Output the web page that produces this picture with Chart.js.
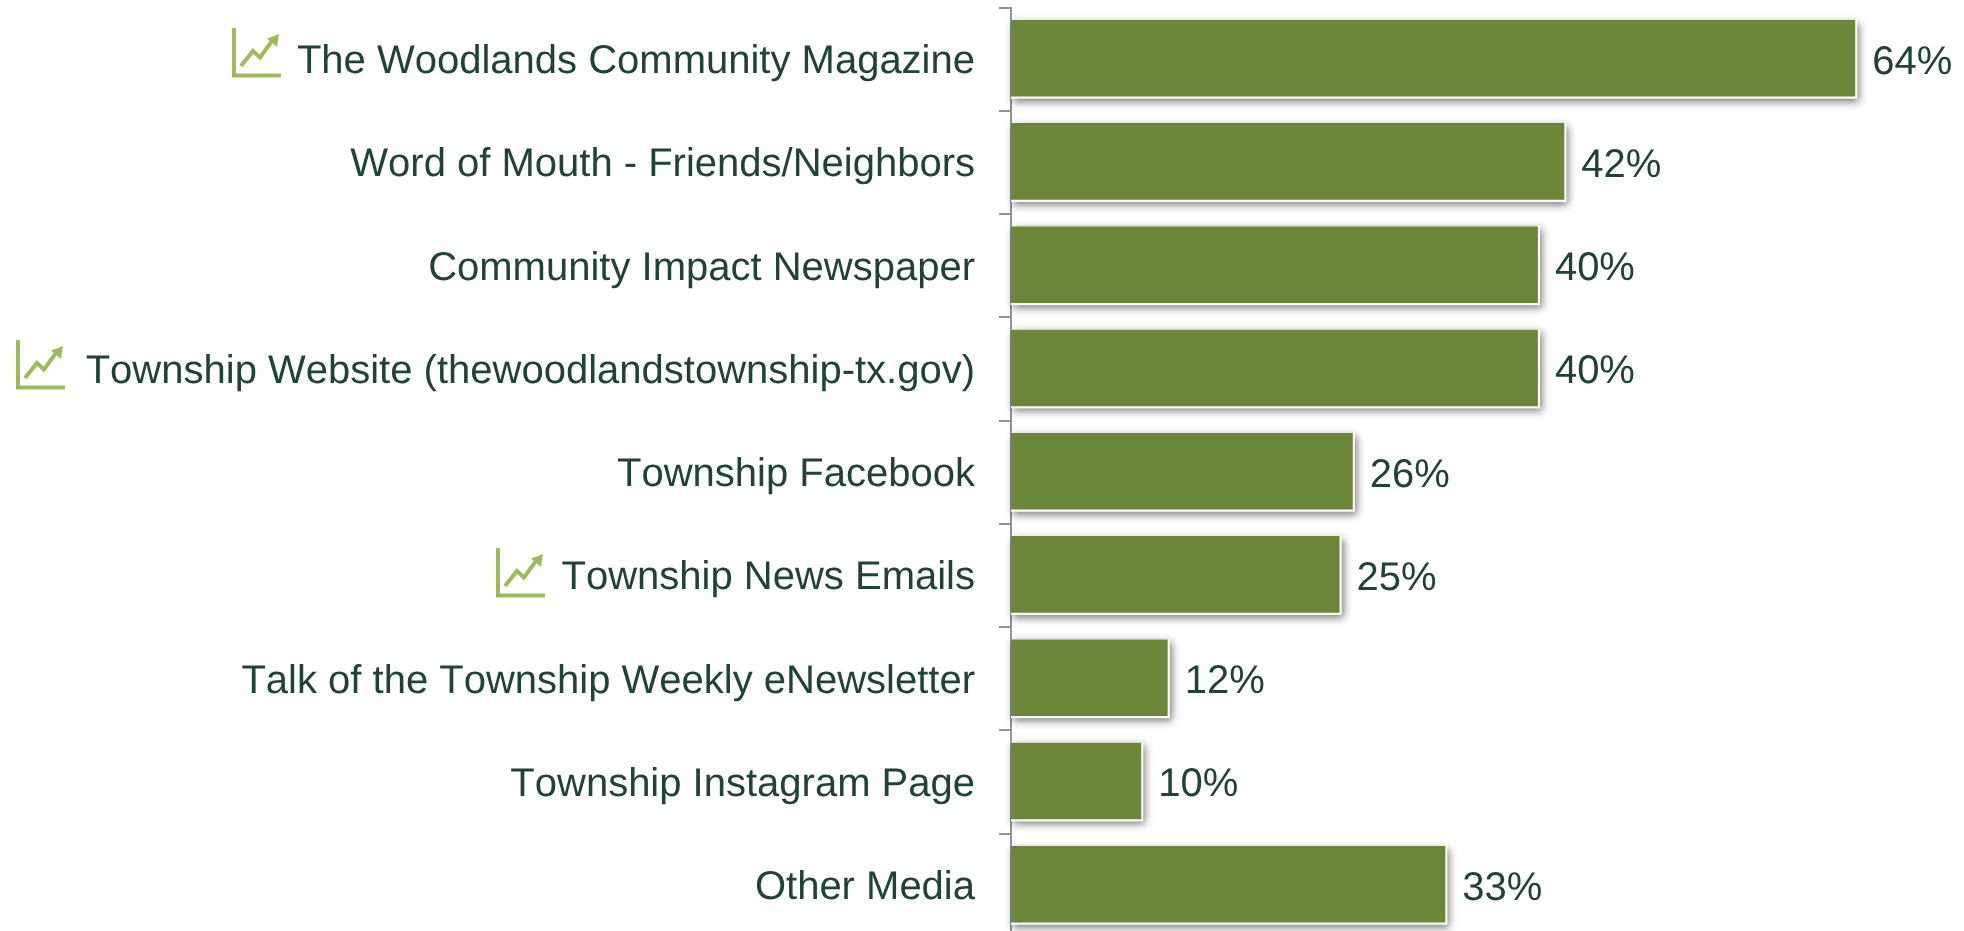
<!DOCTYPE html>
<html>
<head>
<meta charset="utf-8">
<title>Media sources</title>
<style>
    html, body { margin: 0; background: #fff; overflow: hidden; height: 931px; }
    canvas { display: block; }
</style>
<script src="https://cdn.jsdelivr.net/npm/chart.js@4"></script>
</head>
<body>
<canvas id="mediaChart" width="1964" height="940"></canvas>
<script>
const categories = [
    "The Woodlands Community Magazine",
    "Word of Mouth - Friends/Neighbors",
    "Community Impact Newspaper",
    "Township Website (thewoodlandstownship-tx.gov)",
    "Township Facebook",
    "Township News Emails",
    "Talk of the Township Weekly eNewsletter",
    "Township Instagram Page",
    "Other Media"
];
const percentages = [64, 42, 40, 40, 26, 25, 12, 10, 33];
// categories that get the little trend icon, with its left edge in px
const trendCategories = [0, 3, 5];
const trendIconLeft = [232, 16, 496];
const trendIconRaise = [31.5, 28.5, 27.5];

const textColor = "#1f4339";
const barColor = "#6b8539";
const axisColor = "#8f9494";
const iconColor = "#9dbb5a";
const fontSpec = { family: "'Liberation Sans', Arial, sans-serif", size: 40 };

// reference text has no kerning and no hinting
const textSetup = {
    id: "textSetup",
    beforeDraw(chart) {
        chart.ctx.fontKerning = "none";
        chart.ctx.textRendering = "geometricPrecision";
    }
};

// shadow goes under the bars, so the white edge stays clean
const barShadow = {
    id: "barShadow",
    beforeDatasetsDraw(chart) {
        const ctx = chart.ctx;
        ctx.save();
        ctx.shadowColor = "rgba(0, 0, 0, 0.5)";
        ctx.shadowBlur = 8;
        ctx.shadowOffsetX = 2;
        ctx.shadowOffsetY = 3;
        ctx.fillStyle = "#fff";
        chart.getDatasetMeta(0).data.forEach(function (bar) {
            ctx.fillRect(bar.base, bar.y - bar.height / 2, bar.x - bar.base, bar.height);
        });
        ctx.restore();
    }
};

const valueLabels = {
    id: "valueLabels",
    afterDatasetsDraw(chart) {
        const ctx = chart.ctx;
        ctx.save();
        ctx.font = fontSpec.size + "px " + fontSpec.family;
        ctx.fillStyle = textColor;
        ctx.textAlign = "left";
        ctx.textBaseline = "middle";
        chart.getDatasetMeta(0).data.forEach(function (bar, i) {
            ctx.fillText(percentages[i] + "%", bar.x + 15, bar.y + 3.5);
        });
        ctx.restore();
    }
};

const trendIcons = {
    id: "trendIcons",
    afterDraw(chart) {
        const ctx = chart.ctx;
        const yScale = chart.scales.y;
        trendCategories.forEach(function (cat, n) {
            const x = trendIconLeft[n];
            const y = Math.round(yScale.getPixelForValue(cat) - trendIconRaise[n]);
            ctx.save();
            ctx.translate(x, y);
            ctx.strokeStyle = iconColor;
            ctx.fillStyle = iconColor;
            // axes of the icon
            ctx.lineWidth = 4;
            ctx.beginPath();
            ctx.moveTo(2, 0);
            ctx.lineTo(2, 47.5);
            ctx.lineTo(49, 47.5);
            ctx.stroke();
            // zigzag
            ctx.lineWidth = 4;
            ctx.beginPath();
            ctx.moveTo(9, 38);
            ctx.lineTo(21, 23);
            ctx.lineTo(28, 29.5);
            ctx.lineTo(40, 13);
            ctx.stroke();
            // arrow head
            ctx.beginPath();
            ctx.moveTo(47, 6);
            ctx.lineTo(35, 10.5);
            ctx.lineTo(45, 19);
            ctx.closePath();
            ctx.fill();
            ctx.restore();
        });
    }
};

const ctx = document.getElementById("mediaChart");
new Chart(ctx, {
    type: "bar",
    data: {
        labels: categories,
        datasets: [{
            data: percentages,
            backgroundColor: barColor,
            borderColor: "#fff",
            borderWidth: { top: 0, right: 2, bottom: 2, left: 0 },
            borderSkipped: false,
            barPercentage: 0.765,
            categoryPercentage: 1
        }]
    },
    options: {
        indexAxis: "y",
        responsive: false,
        animation: false,
        layout: { padding: { top: 7.5, bottom: 3.25, right: 3, left: 0 } },
        plugins: {
            legend: { display: false },
            tooltip: { enabled: false }
        },
        scales: {
            x: {
                display: false,
                min: 0,
                max: 71.85
            },
            y: {
                afterFit(scale) {
                    scale.width = 1011;
                    scale.paddingTop = 0;
                    scale.paddingBottom = 0;
                },
                border: { display: true, color: axisColor, width: 2 },
                grid: {
                    offset: true,
                    drawOnChartArea: false,
                    color: axisColor,
                    lineWidth: 2,
                    tickLength: 12
                },
                ticks: {
                    color: textColor,
                    font: fontSpec,
                    padding: 24,
                    labelOffset: 3,
                    autoSkip: false
                }
            }
        }
    },
    plugins: [textSetup, barShadow, valueLabels, trendIcons]
});
</script>
</body>
</html>
